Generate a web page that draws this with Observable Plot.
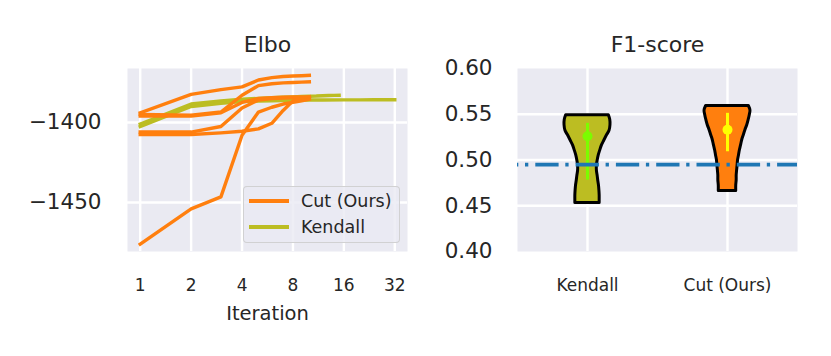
<!DOCTYPE html>
<html><head><meta charset="utf-8">
<script src="https://cdn.jsdelivr.net/npm/d3@7"></script>
<script src="https://cdn.jsdelivr.net/npm/@observablehq/plot@0.6"></script>
<style>
body{margin:0;background:#fff;font-family:"DejaVu Sans",sans-serif;}
#fig{position:relative;width:831px;height:356px;overflow:hidden;background:#fff;}
#fig svg.chart{position:absolute;top:0;}
.legend{position:absolute;left:243px;top:186px;width:155px;height:55px;border:1.8px solid rgba(204,204,204,0.85);border-radius:4px;background:rgba(234,234,242,0.8);color:#262626;font-family:"DejaVu Sans",sans-serif;font-size:17.5px;}
.legend .sw{position:absolute;left:5px;width:40px;height:3.6px;}
.legend .lb{position:absolute;left:57px;line-height:17.5px;white-space:nowrap;}
</style></head><body><div id="fig"></div>
<script>
// ---------- Elbo panel data ----------
const cutIterations = [1, 2, 3, 4, 5, 6, 7, 8, 9, 10];
const cutRun1 = [-1394.0, -1382.5, -1379.5, -1377.8, -1373.5, -1372.0, -1371.3, -1371.0, -1370.8, -1370.6];
const cutRun2 = [-1395.0, -1395.5, -1393.5, -1383.0, -1377.0, -1375.8, -1375.3, -1375.0, -1374.8, -1374.6];
const cutRun3 = [-1396.0, -1396.0, -1394.0, -1387.5, -1385.0, -1384.5, -1384.2, -1384.0, -1384.0, -1384.0];
const cutRun4 = [-1406.0, -1406.0, -1402.5, -1391.0, -1386.0, -1385.0, -1384.8, -1384.6, -1384.5, -1384.5];
const cutRun5 = [-1407.5, -1407.5, -1406.5, -1405.5, -1404.0, -1400.5, -1392.5, -1386.5, -1385.0, -1384.0];
const cutRun6 = [-1476.0, -1454.0, -1446.5, -1408.0, -1393.5, -1390.5, -1388.5, -1387.5, -1386.5, -1385.5];

const kendallIterations1 = [1, 2, 3, 4, 5, 6, 7, 8, 9, 10, 11, 12, 13, 14, 15];
const kendallRun1 = [-1401.0, -1388.5, -1386.5, -1385.5, -1385.0, -1384.5, -1384.2, -1384.0, -1383.8, -1383.6, -1383.5, -1383.3, -1383.2, -1383.1, -1383.0];
const kendallIterations2 = [1, 2, 3, 4, 5, 6, 8, 10, 12, 16, 20, 24, 28, 32];
const kendallRun2 = [-1402.5, -1390.0, -1388.0, -1387.0, -1386.6, -1386.4, -1386.2, -1386.0, -1386.0, -1385.9, -1385.9, -1385.8, -1385.8, -1385.8];

const iterationTicks = [1, 2, 4, 8, 16, 32];
const elboTicks = [-1450, -1400];
const methodNames = ["Cut (Ours)", "Kendall"];

// ---------- F1 panel data ----------
const f1Categories = ["Kendall", "Cut (Ours)"];
const f1Ticks = [0.40, 0.45, 0.50, 0.55, 0.60];
const f1Grid = [0.45, 0.50, 0.55];
const kendallViolinValues = [0.549, 0.544, 0.538, 0.532, 0.527, 0.521, 0.516, 0.510, 0.505, 0.499, 0.494, 0.488, 0.483, 0.477, 0.472, 0.466, 0.461, 0.456, 0.453];
const kendallViolinDensity = [0.93, 0.99, 1.00, 0.96, 0.85, 0.73, 0.63, 0.55, 0.49, 0.44, 0.41, 0.41, 0.44, 0.47, 0.50, 0.52, 0.53, 0.53, 0.53];
const cutViolinValues = [0.559, 0.554, 0.549, 0.5435, 0.538, 0.5326, 0.527, 0.5216, 0.516, 0.5107, 0.505, 0.4998, 0.494, 0.4889, 0.483, 0.478, 0.472, 0.4662];
const cutViolinDensity = [0.93, 1.00, 0.97, 0.92, 0.86, 0.78, 0.71, 0.64, 0.59, 0.54, 0.50, 0.46, 0.44, 0.42, 0.40, 0.40, 0.38, 0.38];
const f1Low = [0.478, 0.509];
const f1High = [0.540, 0.551];
const f1Center = [0.526, 0.533];
const f1Baseline = 0.495;

// ---------- styles ----------
const ORANGE = "#ff7f0e", OLIVE = "#bcbd22", BG = "#eaeaf2", TXT = "#262626";
const innerColors = ["#7cfc00", "#ffff00"];
const violinHalfWidth = 0.164;
const baseStyle = {fontFamily: "DejaVu Sans", color: TXT, background: "transparent", overflow: "visible"};
const minus = d => (d < 0 ? "\u2212" + Math.abs(d) : String(d));
const GRID_W = 2.4;

// build tables
const cutRuns = [cutRun1, cutRun2, cutRun3, cutRun4, cutRun5, cutRun6];
const cutRows = cutRuns.flatMap((run, r) => run.map((v, i) => ({run: "c" + r, it: cutIterations[i], v})));
const kendallRows = [
  ...kendallRun1.map((v, i) => ({run: "k1", it: kendallIterations1[i], v})),
  ...kendallRun2.map((v, i) => ({run: "k2", it: kendallIterations2[i], v}))
];

const fig = document.getElementById("fig");

const left = Plot.plot({
  width: 415, height: 356,
  marginLeft: 127, marginRight: 8, marginTop: 68, marginBottom: 105,
  style: baseStyle,
  x: {type: "log", base: 2, domain: [2 ** -0.25, 2 ** 5.25]},
  y: {domain: [-1480.6, -1366.3]},
  marks: [
    Plot.frame({fill: BG, stroke: "none"}),
    Plot.gridX(iterationTicks, {stroke: "#fff", strokeOpacity: 1, strokeWidth: GRID_W}),
    Plot.gridY(elboTicks, {stroke: "#fff", strokeOpacity: 1, strokeWidth: GRID_W}),
    Plot.line(kendallRows, {x: "it", y: "v", z: "run", stroke: OLIVE, strokeWidth: 3.4, strokeLinecap: "square", strokeLinejoin: "round"}),
    Plot.line(cutRows, {x: "it", y: "v", z: "run", stroke: ORANGE, strokeWidth: 3.4, strokeLinecap: "square", strokeLinejoin: "round"}),
    Plot.axisX(iterationTicks, {tickSize: 0, tickPadding: 27, fontSize: 17, tickFormat: d => String(d), label: null}),
    Plot.axisY(elboTicks, {tickSize: 0, tickPadding: 26, fontSize: 21.5, tickFormat: minus, label: null}),
    Plot.text(["Elbo"], {text: d => d, frameAnchor: "top", dy: -16.3, lineAnchor: "bottom", fontSize: 22}),
    Plot.text(["Iteration"], {text: d => d, frameAnchor: "bottom", dy: 68, lineAnchor: "bottom", fontSize: 19.5})
  ]
});
left.classList.add("chart");
left.style.left = "0px";
fig.appendChild(left);

// legend overlay
const legend = document.createElement("div");
legend.className = "legend";
const legendColors = [ORANGE, OLIVE];
methodNames.forEach((name, i) => {
  const sw = document.createElement("div");
  sw.className = "sw";
  sw.style.background = legendColors[i];
  sw.style.top = (12.2 + i * 25.8) + "px";
  legend.appendChild(sw);
  const lb = document.createElement("div");
  lb.className = "lb";
  lb.textContent = name;
  lb.style.top = (5.6 + i * 26) + "px";
  legend.appendChild(lb);
});
fig.appendChild(legend);

// violin tables
const violinRows = [
  ...kendallViolinValues.map((v, i) => ({cat: f1Categories[0], pos: 0, v, d: kendallViolinDensity[i]})),
  ...cutViolinValues.map((v, i) => ({cat: f1Categories[1], pos: 1, v, d: cutViolinDensity[i]}))
];
const stats = f1Categories.map((c, i) => ({cat: c, pos: i, lo: f1Low[i], hi: f1High[i], mid: f1Center[i], color: innerColors[i]}));

const right = Plot.plot({
  width: 416, height: 356,
  marginLeft: 102, marginRight: 34, marginTop: 68, marginBottom: 105,
  style: baseStyle,
  x: {type: "linear", domain: [-0.5, 1.5]},
  y: {domain: [0.40, 0.60]},
  color: {domain: f1Categories, range: [OLIVE, ORANGE]},
  marks: [
    Plot.frame({fill: BG, stroke: "none"}),
    Plot.gridX([0, 1], {stroke: "#fff", strokeOpacity: 1, strokeWidth: GRID_W}),
    Plot.gridY(f1Grid, {stroke: "#fff", strokeOpacity: 1, strokeWidth: GRID_W}),
    Plot.areaX(violinRows, {
      y: "v",
      x1: r => r.pos - r.d * violinHalfWidth,
      x2: r => r.pos + r.d * violinHalfWidth,
      z: "cat", fill: "cat", stroke: "#000", strokeWidth: 3, strokeLinejoin: "round", curve: "catmull-rom"
    }),
    Plot.ruleX(stats, {x: "pos", y1: "lo", y2: "hi", stroke: d => d.color, strokeWidth: 3}),
    Plot.dot(stats, {x: "pos", y: "mid", r: 5, fill: d => d.color, stroke: "none"}),
    Plot.ruleY([f1Baseline], {stroke: "#1f77b4", strokeWidth: 3.8, strokeDasharray: "23.3,6.7,3.3,7", strokeDashoffset: 22}),
    Plot.axisX([0, 1], {tickSize: 0, tickPadding: 27, fontSize: 17, tickFormat: i => f1Categories[i], label: null}),
    Plot.axisY(f1Ticks, {tickSize: 0, tickPadding: 25, fontSize: 21.5, tickFormat: d3.format(".2f"), label: null}),
    Plot.text(["F1-score"], {text: d => d, frameAnchor: "top", dy: -16.3, lineAnchor: "bottom", fontSize: 22})
  ]
});
right.classList.add("chart");
right.style.left = "415px";
fig.appendChild(right);
</script></body></html>
